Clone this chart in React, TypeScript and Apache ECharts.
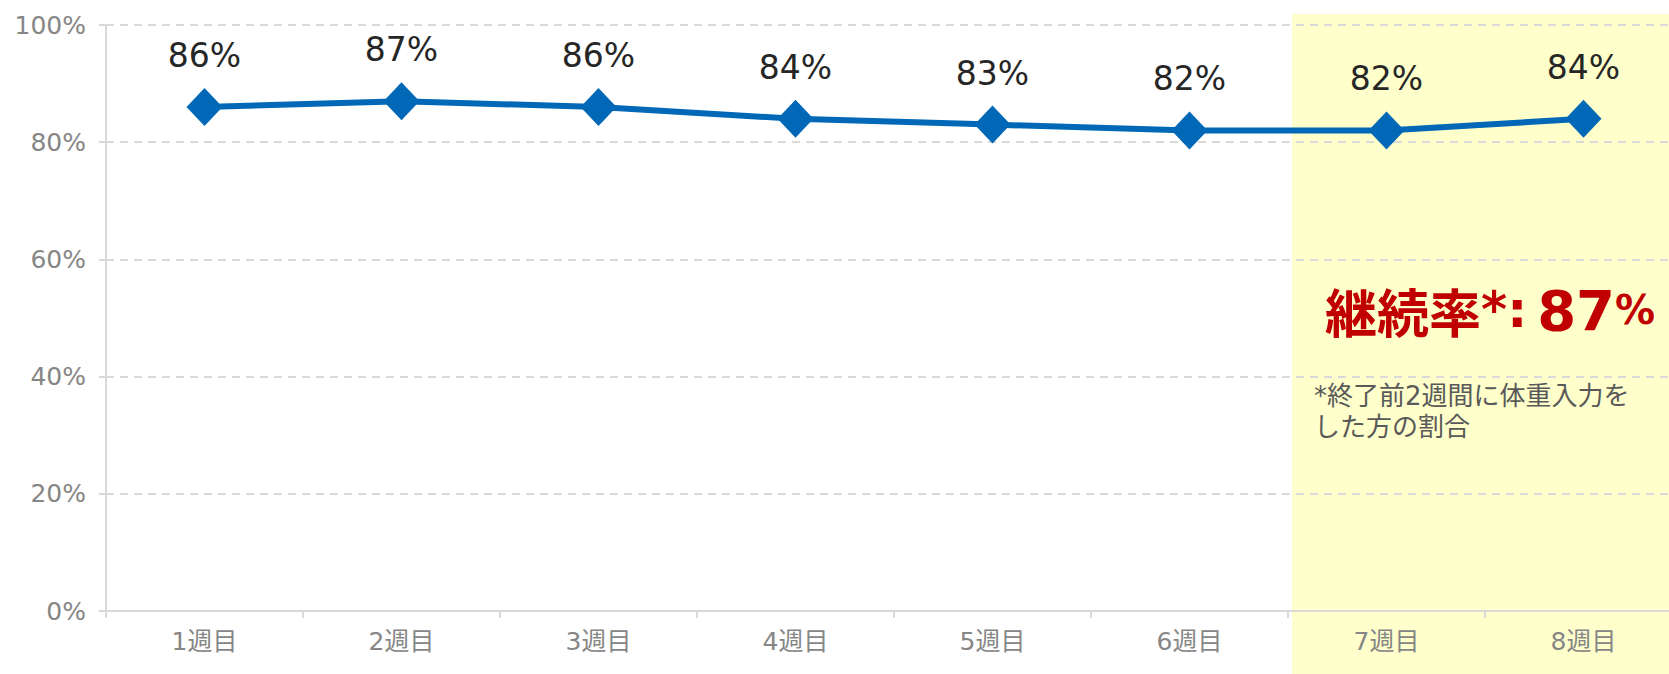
import React, { useEffect, useRef } from "react";
import * as echarts from "echarts";

const categories = ["1週目", "2週目", "3週目", "4週目", "5週目", "6週目", "7週目", "8週目"];
const rates = [86, 87, 86, 84, 83, 82, 82, 84];
const yTicks = { min: 0, max: 100, interval: 20 };
const highlightFrom = "7週目";
const headline = { label: "継続率", mark: "*:", value: "87", unit: "%" };
const footnote = ["*終了前2週間に体重入力を", "した方の割合"];

const FONT = "'DejaVu Sans', 'Noto Sans CJK JP', sans-serif";
const CJK = "'Noto Sans CJK JP', sans-serif";
const RED = "#C00000";

export default function App() {
  const ref = useRef<HTMLDivElement>(null);
  useEffect(() => {
    if (!ref.current) return;
    const chart = echarts.init(ref.current, undefined, { renderer: "svg" });
    chart.setOption({
      animation: false,
      textStyle: { fontFamily: FONT },
      grid: { left: 106, right: 18, top: 25, bottom: 63, containLabel: false },
      xAxis: {
        type: "category",
        data: categories,
        boundaryGap: true,
        axisLine: { lineStyle: { color: "#d9d9d9", width: 2 } },
        axisTick: { show: true, length: 7, lineStyle: { color: "#d9d9d9", width: 2 } },
        axisLabel: { color: "#868686", fontSize: 25, margin: 18, fontFamily: FONT },
        splitLine: { show: false },
      },
      yAxis: {
        type: "value",
        min: yTicks.min,
        max: yTicks.max,
        interval: yTicks.interval,
        axisLine: { show: true, lineStyle: { color: "#d9d9d9", width: 2 } },
        axisTick: { show: true, length: 7, lineStyle: { color: "#d9d9d9", width: 2 } },
        axisLabel: { color: "#868686", fontSize: 25, margin: 20, formatter: "{value}%", fontFamily: FONT },
        splitLine: { show: true, lineStyle: { color: "#d9d9d9", type: [8, 6], width: 2 } },
      },
      series: [
        {
          type: "line",
          data: rates,
          symbol: "diamond",
          symbolSize: [36, 38],
          itemStyle: { color: "#0068B7" },
          lineStyle: { color: "#0068B7", width: 6 },
          label: {
            show: true,
            position: "top",
            distance: 16,
            formatter: "{c}%",
            color: "#262626",
            fontSize: 33,
            fontFamily: FONT,
          },
          z: 5,
        },
      ],
    });

    const idx = categories.indexOf(highlightFrom);
    const c1 = chart.convertToPixel({ xAxisIndex: 0 }, categories[idx]) as number;
    const c0 = chart.convertToPixel({ xAxisIndex: 0 }, categories[idx - 1]) as number;
    const band = c1 - c0;
    const bandX = c1 - band / 2 + 4;
    const DV = "'DejaVu Sans', sans-serif";
    chart.setOption({
      graphic: [
        {
          type: "rect",
          z: -10,
          silent: true,
          shape: { x: bandX, y: 14, width: 1700 - bandX, height: 674 - 14 },
          style: { fill: "#FFFFCC" },
        },
        {
          type: "text",
          z: 100,
          x: bandX + 33,
          y: 279,
          style: {
            text: `{a|${headline.label}}{m|${headline.mark}}{b|${headline.value}}{c|${headline.unit}}`,
            rich: {
              a: { fontSize: 52, fontWeight: "bold", fill: RED, fontFamily: CJK, height: 62 },
              m: { fontSize: 50, fontWeight: "bold", fill: RED, fontFamily: DV, padding: [0, 10, 0, 0], height: 62 },
              b: { fontSize: 56, fontWeight: "bold", fill: RED, fontFamily: DV, height: 62 },
              c: { fontSize: 40, fontWeight: "bold", fill: RED, fontFamily: DV, height: 62 },
            },
          },
        },
        {
          type: "text",
          z: 100,
          x: bandX + 22,
          y: 380,
          style: {
            text: footnote.join("\n"),
            fontSize: 26,
            lineHeight: 31,
            fill: "#595959",
            fontFamily: FONT,
          },
        },
      ],
    });
    return () => chart.dispose();
  }, []);
  return (
    <div style={{ position: "fixed", left: 0, top: 0, width: 1669, height: 674, overflow: "hidden", background: "#fff" }}>
      <div ref={ref} style={{ width: 1700, height: 674 }} />
    </div>
  );
}
